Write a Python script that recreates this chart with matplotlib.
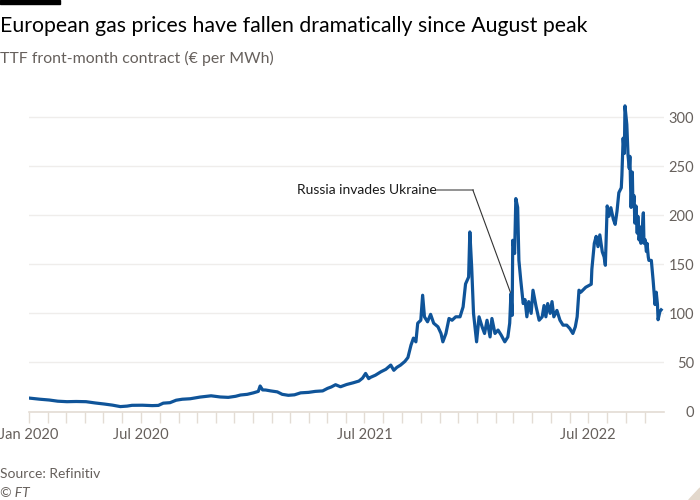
import matplotlib
matplotlib.use('Agg')
import matplotlib.pyplot as plt
import matplotlib.patches as mpatches
import pandas as pd

plt.rcParams['font.family'] = ['Lato', 'DejaVu Sans']

# TTF front-month contract, EUR per MWh
dates = [
    '2020-01-01', '2020-01-19', '2020-02-03', '2020-02-17', '2020-03-03', '2020-03-18',
    '2020-04-03', '2020-04-18', '2020-05-03', '2020-05-16', '2020-05-29', '2020-06-09',
    '2020-06-17', '2020-07-04', '2020-07-20', '2020-07-30', '2020-08-07', '2020-08-18',
    '2020-08-28', '2020-09-07', '2020-09-20', '2020-10-06', '2020-10-24', '2020-11-08',
    '2020-11-21', '2020-12-03', '2020-12-11', '2020-12-22', '2021-01-01', '2021-01-09',
    '2021-01-12', '2021-01-16', '2021-01-21', '2021-01-29', '2021-02-09', '2021-02-17',
    '2021-02-27', '2021-03-09', '2021-03-19', '2021-04-01', '2021-04-12', '2021-04-24',
    '2021-05-02', '2021-05-08', '2021-05-15', '2021-05-23', '2021-06-02', '2021-06-13',
    '2021-06-22', '2021-06-28', '2021-07-03', '2021-07-08', '2021-07-11', '2021-07-19',
    '2021-07-28', '2021-08-05', '2021-08-13', '2021-08-18', '2021-08-23', '2021-08-29',
    '2021-09-05', '2021-09-10', '2021-09-15', '2021-09-19', '2021-09-23', '2021-09-26',
    '2021-10-01', '2021-10-04', '2021-10-07', '2021-10-12', '2021-10-17', '2021-10-22',
    '2021-10-29', '2021-11-03', '2021-11-06', '2021-11-11', '2021-11-16', '2021-11-21',
    '2021-11-27', '2021-12-04', '2021-12-09', '2021-12-13', '2021-12-18', '2021-12-20',
    '2021-12-23', '2021-12-26', '2021-12-31', '2022-01-04', '2022-01-09', '2022-01-13',
    '2022-01-17', '2022-01-22', '2022-01-25', '2022-01-30', '2022-02-04', '2022-02-09',
    '2022-02-15', '2022-02-20', '2022-02-23', '2022-02-25', '2022-02-27', '2022-02-28',
    '2022-03-03', '2022-03-05', '2022-03-08', '2022-03-10', '2022-03-13', '2022-03-17',
    '2022-03-20', '2022-03-23', '2022-03-26', '2022-03-30', '2022-04-02', '2022-04-07',
    '2022-04-12', '2022-04-17', '2022-04-20', '2022-04-23', '2022-04-26', '2022-04-30',
    '2022-05-03', '2022-05-06', '2022-05-11', '2022-05-16', '2022-05-21', '2022-05-27',
    '2022-06-01', '2022-06-06', '2022-06-10', '2022-06-13', '2022-06-16', '2022-06-19',
    '2022-06-27', '2022-07-06', '2022-07-07', '2022-07-11', '2022-07-14', '2022-07-17',
    '2022-07-20', '2022-07-24', '2022-07-27', '2022-07-29', '2022-08-01', '2022-08-04',
    '2022-08-07', '2022-08-11', '2022-08-14', '2022-08-17', '2022-08-20', '2022-08-24',
    '2022-08-25', '2022-08-27', '2022-08-29', '2022-08-30', '2022-09-02', '2022-09-04',
    '2022-09-06', '2022-09-07', '2022-09-09', '2022-09-11', '2022-09-12', '2022-09-14',
    '2022-09-15', '2022-09-17', '2022-09-19', '2022-09-20', '2022-09-22', '2022-09-24',
    '2022-09-25', '2022-09-27', '2022-09-29', '2022-09-30', '2022-10-02', '2022-10-04',
    '2022-10-05', '2022-10-07', '2022-10-08', '2022-10-12', '2022-10-15', '2022-10-18',
    '2022-10-20', '2022-10-22', '2022-10-23', '2022-10-26', '2022-10-28',
]
prices = [
    13.7, 12.5, 11.7, 10.5, 10.0, 10.2,
    10.0, 8.7, 7.6, 6.5, 5.0, 5.5,
    6.3, 6.4, 6.0, 6.2, 8.5, 9.0,
    11.5, 12.5, 13.0, 14.7, 16.0, 14.8,
    14.4, 15.5, 16.8, 17.5, 19.0, 20.5,
    26.0, 22.0, 21.9, 21.0, 20.0, 17.5,
    16.5, 17.0, 19.0, 19.5, 20.5, 21.0,
    23.6, 25.0, 27.3, 25.2, 27.5, 29.3,
    31.0, 34.0, 38.8, 33.5, 34.8, 37.0,
    40.5, 43.0, 47.3, 42.0, 45.0, 47.3,
    51.0, 55.0, 67.6, 74.8, 71.0, 90.0,
    93.0, 118.5, 96.5, 91.4, 99.0, 90.0,
    86.3, 79.5, 71.0, 79.5, 94.8, 93.0,
    96.5, 96.5, 106.6, 130.0, 137.0, 183.0,
    147.0, 100.0, 71.0, 96.5, 86.3, 79.5,
    93.0, 76.0, 94.8, 79.5, 83.0, 78.0,
    71.0, 76.0, 90.0, 120.0, 98.0, 174.5,
    161.0, 217.0, 208.0, 154.0, 134.0, 110.0,
    114.0, 96.5, 112.0, 100.0, 123.6, 107.0,
    93.0, 96.5, 108.0, 96.5, 110.0, 100.0,
    112.0, 96.5, 103.0, 93.0, 88.0, 88.0,
    84.6, 79.5, 86.3, 96.5, 123.6, 121.6,
    126.6, 129.7, 145.0, 171.4, 178.5, 168.0,
    180.0, 162.7, 157.5, 149.0, 209.5, 199.0,
    207.7, 196.0, 190.7, 204.0, 223.0, 228.0,
    240.6, 278.6, 263.0, 311.5, 292.5, 261.0,
    247.7, 260.0, 208.0, 244.0, 209.5, 219.8,
    192.0, 209.5, 181.7, 199.0, 174.8, 188.0,
    171.4, 185.0, 202.5, 171.4, 175.0, 163.0,
    171.4, 157.5, 154.0, 154.0, 133.0, 109.0,
    121.6, 109.0, 93.5, 102.0, 103.6,
]

yticks = [0, 50, 100, 150, 200, 250, 300]
xtick_labels = {'2020-01-01': 'Jan 2020', '2020-07-01': 'Jul 2020',
                '2021-07-01': 'Jul 2021', '2022-07-01': 'Jul 2022'}

# annotation: label end, elbow, and the point on the line (24 Feb 2022)
note_text = 'Russia invades Ukraine'
note_dates = ['2021-10-27', '2021-12-25', '2022-02-24']
note_vals = [225.6, 225.6, 121.7]

blue = '#0f5499'
grey_text = '#66605c'
grid_col = '#efedeb'
axis_col = '#e3dcd4'

df = pd.DataFrame({'date': pd.to_datetime(dates), 'price': prices})

fig = plt.figure(figsize=(7, 5), dpi=100, facecolor='white')
ax = fig.add_axes([0.0414, 0.177, 0.9066, 0.628])

ax.plot(df['date'], df['price'], color=blue, lw=2.3, solid_joinstyle='round', zorder=3)

ax.set_xlim(pd.Timestamp('2020-01-01'), pd.Timestamp('2022-11-01'))
ax.set_ylim(0, 320)

# monthly ticks, only a few labelled
months = pd.date_range('2020-01-01', '2022-10-01', freq='MS')
ax.set_xticks(months)
ax.set_xticklabels([xtick_labels.get(m.strftime('%Y-%m-%d'), '') for m in months])
ax.tick_params(axis='x', length=8, width=1, color=axis_col, labelsize=10.5,
               labelcolor=grey_text, pad=4)

ax.yaxis.tick_right()
ax.set_yticks(yticks)
ax.set_yticklabels([str(v) for v in yticks])
ax.tick_params(axis='y', length=0, labelsize=10.5, labelcolor=grey_text, pad=22)
for lab in ax.get_yticklabels():
    lab.set_horizontalalignment('right')

ax.grid(axis='y', color=grid_col, lw=1)
ax.set_axisbelow(True)
for side in ['top', 'left', 'right']:
    ax.spines[side].set_visible(False)
ax.spines['bottom'].set_color(axis_col)
ax.spines['bottom'].set_linewidth(1.2)
ax.set_facecolor('white')

nd = pd.to_datetime(note_dates)
ax.plot(nd[:2], note_vals[:2], color='#808080', lw=1.2, zorder=4)
ax.plot(nd[1:], note_vals[1:], color='#333333', lw=0.8, zorder=4)
ax.text(nd[0], note_vals[0], note_text, ha='right', va='center', fontsize=10,
        color='#1a1a1a', zorder=5)

# titles and footer
fig.text(0.0, 0.936, 'European gas prices have fallen dramatically since August peak',
         fontsize=15.3, color='#000000', va='baseline', ha='left')
fig.text(0.0, 0.874, 'TTF front-month contract (€ per MWh)', fontsize=11.4,
         color=grey_text, va='baseline', ha='left')
fig.text(0.0, 0.044, 'Source: Refinitiv', fontsize=10, color=grey_text,
         va='baseline', ha='left')
fig.text(0.0, 0.006, '© FT', fontsize=10, color=grey_text, style='italic',
         va='baseline', ha='left')

# black bar at top left and the little corner mark
fig.patches.append(mpatches.Rectangle((0, 0.992), 60 / 700, 0.008,
                                      transform=fig.transFigure, color='black'))
fig.patches.append(mpatches.Polygon([(1.0, 0.0), (1.0, 0.024), (0.984, 0.0)],
                                    closed=True, transform=fig.transFigure,
                                    color='#e3d8cc'))

fig.savefig('out.png', dpi=100, facecolor='white')
